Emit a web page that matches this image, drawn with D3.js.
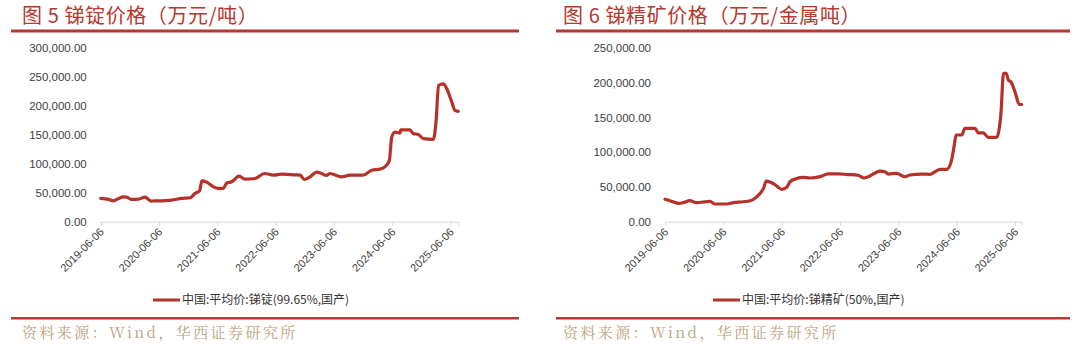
<!DOCTYPE html>
<html>
<head>
<meta charset="utf-8">
<script src="https://cdn.jsdelivr.net/npm/d3@7"></script>
<style>
  body { margin: 0; background: #fff; }
  svg { display: block; }
</style>
</head>
<body>
<div id="chart"></div>
<script>
// 锑锭 (antimony ingot) price, yuan/ton
const ingotDates = ["2019-06-06","2019-07-25","2019-08-24","2019-09-23","2019-10-25","2019-11-15","2019-12-15",
  "2020-01-28","2020-03-10","2020-04-16","2020-05-10","2020-06-22","2020-08-24","2020-10-27","2020-12-17",
  "2021-01-18","2021-02-14","2021-03-01","2021-03-31","2021-05-12","2021-06-12","2021-07-13","2021-08-04",
  "2021-09-04","2021-10-20","2021-11-26","2022-01-28","2022-03-28","2022-05-23","2022-07-14","2022-10-05",
  "2022-11-06","2022-12-03","2023-01-07","2023-02-18","2023-03-20","2023-04-20","2023-05-12","2023-07-24",
  "2023-09-14","2023-12-05","2024-01-28","2024-03-20","2024-04-20","2024-05-18","2024-06-02","2024-06-22",
  "2024-07-24","2024-07-28","2024-09-24","2024-10-15","2024-11-15","2024-12-17","2025-02-18","2025-03-07",
  "2025-03-22","2025-04-22","2025-05-13","2025-06-13","2025-07-03","2025-07-24"];
const ingotValues = [40300,38600,36000,39600,43000,42600,38600,
  39000,42600,35700,36000,36000,37400,40300,41400,
  49000,53400,70700,68400,60300,57600,57600,67000,
  69000,78800,73600,74800,83400,80500,82200,81000,
  80500,73000,77600,85700,83400,80000,83400,77600,
  80500,80500,89000,90900,94800,106000,146500,155000,
  153400,159000,159000,152400,151000,143800,142600,175000,
  235700,238600,230000,207000,192600,191000];

// 锑精矿 (antimony concentrate) price, yuan/metal ton
const concDates = ["2019-06-06","2019-07-07","2019-08-28","2019-09-28","2019-11-09","2019-12-21","2020-03-14",
  "2020-04-15","2020-06-27","2020-08-07","2020-10-09","2020-11-20","2020-12-11","2021-01-22","2021-02-12",
  "2021-03-01","2021-04-05","2021-05-06","2021-06-06","2021-07-07","2021-07-28","2021-09-04","2021-10-18",
  "2021-12-01","2022-02-02","2022-03-24","2022-05-25","2022-07-26","2022-09-27","2022-11-03","2022-12-11",
  "2023-01-18","2023-02-12","2023-03-15","2023-04-04","2023-05-27","2023-07-18","2023-08-18","2023-10-30",
  "2023-12-21","2024-01-22","2024-02-22","2024-04-04","2024-05-05","2024-05-20","2024-06-02","2024-07-07",
  "2024-07-28","2024-09-28","2024-10-19","2024-11-20","2024-12-21","2025-02-12","2025-03-01","2025-03-10",
  "2025-03-26","2025-04-12","2025-04-26","2025-05-11","2025-06-06","2025-07-03","2025-07-18"];
const concValues = [32300,30300,26500,27400,30300,27400,29400,
  25500,25500,27400,28800,30300,32300,40900,48000,
  58600,56200,51400,46700,49600,57600,62000,64000,
  63000,65000,69000,69000,68000,67000,63000,66000,
  71000,73000,72000,68700,69700,64800,67300,68700,
  68300,72000,75500,75500,88900,108000,125000,125000,
  134600,134600,128200,128200,121600,121600,136900,156000,
  213800,213800,204000,201700,187300,169000,169000];

const xTickLabels = ["2019-06-06","2020-06-06","2021-06-06","2022-06-06","2023-06-06","2024-06-06","2025-06-06"];
const ingotYTicks = [0, 50000, 100000, 150000, 200000, 250000, 300000];
const concYTicks = [0, 50000, 100000, 150000, 200000, 250000];

const red = "#b5312a";
const parseDate = d3.timeParse("%Y-%m-%d");
const fmt = d3.format(",.2f");

const svg = d3.select("#chart")
  .append("svg")
  .attr("width", 1080)
  .attr("height", 351);

function drawPanel(opts) {
  const g = svg.append("g").attr("transform", `translate(${opts.left},0)`);

  // title and rules
  g.append("text")
    .attr("x", opts.titleX)
    .attr("y", 23)
    .attr("fill", "#b8372e")
    .style("font-family", "'Noto Sans CJK SC', sans-serif")
    .style("font-size", "20px")
    .style("letter-spacing", "0.6px")
    .text(opts.title);

  g.append("rect").attr("x", 11).attr("y", 29.5).attr("width", opts.ruleW).attr("height", 3).attr("fill", "#b8372e");
  g.append("rect").attr("x", 11).attr("y", 317).attr("width", opts.ruleW).attr("height", 2.5).attr("fill", "#b8372e");

  g.append("text")
    .attr("x", opts.titleX)
    .attr("y", 338)
    .attr("fill", "#bba37c")
    .style("font-family", "'Noto Serif CJK SC', 'Noto Sans CJK SC', serif")
    .style("font-size", "15px")
    .style("letter-spacing", "2.4px")
    .text("资料来源：Wind，华西证券研究所");

  const dates = opts.dates.map(parseDate);
  const data = dates.map((d, i) => ({ date: d, value: opts.values[i] }));

  const x = d3.scaleTime()
    .domain([parseDate(xTickLabels[0]), dates[dates.length - 1]])
    .range([opts.x0, opts.x1]);

  const y = d3.scaleLinear()
    .domain([0, d3.max(opts.yTicks)])
    .range([221.7, 48.3]);

  // y labels
  g.append("g")
    .selectAll("text")
    .data(opts.yTicks)
    .join("text")
    .attr("x", opts.x0 - 14)
    .attr("y", d => y(d))
    .attr("dy", "0.35em")
    .attr("text-anchor", "end")
    .attr("fill", "#404040")
    .style("font-family", "'Liberation Sans', Arial, sans-serif")
    .style("font-size", "11.5px")
    .text(d => fmt(d));

  // x axis
  const xTicks = xTickLabels.map(parseDate);
  const xAxis = g.append("g")
    .attr("transform", `translate(0,${y(0)})`)
    .call(d3.axisBottom(x).tickValues(xTicks).tickSize(4).tickSizeOuter(4).tickFormat(""));
  xAxis.select(".domain").attr("stroke", "#d9d9d9");
  xAxis.selectAll(".tick line").attr("stroke", "#d9d9d9");

  g.append("g")
    .selectAll("text")
    .data(xTicks)
    .join("text")
    .attr("transform", d => `translate(${x(d) + 4},${y(0) + 11}) rotate(-45)`)
    .attr("text-anchor", "end")
    .attr("fill", "#404040")
    .style("font-family", "'Liberation Sans', Arial, sans-serif")
    .style("font-size", "11px")
    .text(d => d3.timeFormat("%Y-%m-%d")(d));

  // line
  const line = d3.line()
    .x(d => x(d.date))
    .y(d => y(d.value))
    .curve(d3.curveMonotoneX);

  g.append("path")
    .datum(data)
    .attr("fill", "none")
    .attr("stroke", red)
    .attr("stroke-width", 3.2)
    .attr("stroke-linejoin", "round")
    .attr("stroke-linecap", "round")
    .attr("d", line);

  // legend
  const lg = g.append("g").attr("transform", `translate(${opts.legendX},300)`);
  lg.append("line").attr("x1", 0).attr("x2", 27).attr("stroke", red).attr("stroke-width", 3);
  lg.append("text")
    .attr("x", 29)
    .attr("dy", "0.35em")
    .attr("fill", "#333")
    .style("font-family", "'Noto Sans CJK SC', sans-serif")
    .style("font-size", "12px")
    .text(opts.legend);
}

drawPanel({
  left: 0,
  title: "图 5 锑锭价格（万元/吨）",
  titleX: 22,
  dates: ingotDates,
  values: ingotValues,
  yTicks: ingotYTicks,
  x0: 100.7, x1: 458.3,
  ruleW: 508,
  legendX: 153,
  legend: "中国:平均价:锑锭(99.65%,国产)"
});

drawPanel({
  left: 545,
  title: "图 6 锑精矿价格（万元/金属吨）",
  titleX: 18,
  dates: concDates,
  values: concValues,
  yTicks: concYTicks,
  x0: 120, x1: 476.7,
  ruleW: 514,
  legendX: 168,
  legend: "中国:平均价:锑精矿(50%,国产)"
});
</script>
</body>
</html>
